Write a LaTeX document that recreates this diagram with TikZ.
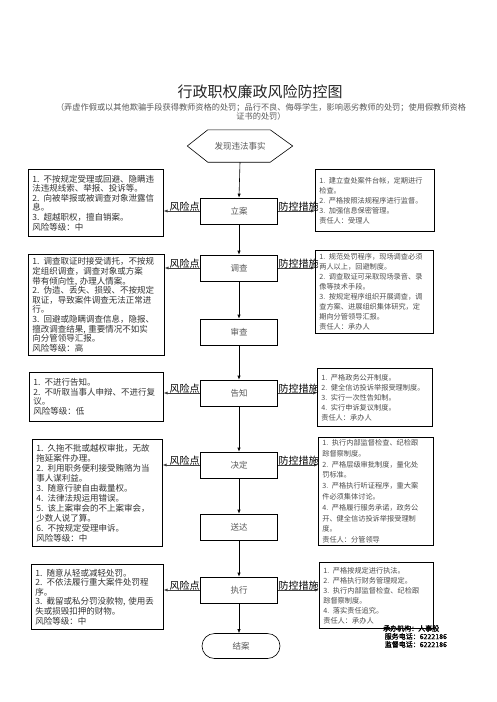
\documentclass[tikz,border=0pt]{standalone}
\usepackage{fontspec}
\setmainfont{Liberation Serif}
\newfontfamily\cjk{Noto Sans CJK SC}
\newfontfamily\cjkbold[FakeBold=1.2]{Noto Sans CJK SC}
\usetikzlibrary{arrows.meta,calc}
\tikzset{
  proc/.style={draw, line width=0.6pt, minimum width=77pt, minimum height=26pt, inner sep=0pt,
    font=\cjk\fontsize{8.5}{10}\selectfont, text=black!65},
  riskbox/.style={draw, line width=0.6pt, anchor=north west, align=left, inner xsep=4pt, inner ysep=2pt,
    font=\cjk\fontsize{8.5}{9.6}\selectfont, text=black!80},
  ctrlbox/.style={draw, line width=0.6pt, anchor=north west, align=left, inner xsep=4pt, inner ysep=2pt,
    font=\cjk\fontsize{7.2}{10}\selectfont, text=black!70},
  flow/.style={-{Latex[length=4pt,width=3.2pt]}, line width=0.6pt},
  side/.style={-{Latex[length=4pt,width=3.2pt]}, line width=1pt, draw=black!75},
  lab/.style={font=\cjk\fontsize{10}{10}\selectfont, inner sep=0.5pt},
}
\begin{document}
\begin{tikzpicture}[x=1pt,y=-1pt]
\fill[white] (0,0) rectangle (496,702);
\useasboundingbox (0,0) rectangle (496,702);

% title
\node[font=\cjk\fontsize{15}{16}\selectfont, text=black!85] (title) at (260,92) {行政职权廉政风险防控图};
\node[font=\cjk\fontsize{8.2}{8.6}\selectfont, text=black!65, align=center, inner sep=0pt] (sub) at (261,112)
  {（弄虚作假或以其他欺骗手段获得教师资格的处罚；品行不良、侮辱学生，影响恶劣教师的处罚；使用假教师资格\\证书的处罚）};

% start hexagon
\node[font=\cjk\fontsize{8.5}{10}\selectfont, text=black!65, minimum width=105pt, minimum height=32pt, inner sep=0pt] (start) at (240,146) {发现违法事实};
\draw[line width=0.6pt] (start.west) -- ($(start.north west)+(20.5,0)$) -- ($(start.north east)+(-22.5,0)$)
  -- (start.east) -- ($(start.south east)+(-22.5,0)$) -- ($(start.south west)+(20.5,0)$) -- cycle;

% process boxes
\node[proc] (lian) at (239,211) {立案};
\node[proc] (diao) at (239,268) {调查};
\node[proc] (shen) at (239,332) {审查};
\node[proc] (gao) at (239,393) {告知};
\node[proc] (jue) at (239,465) {决定};
\node[proc] (song) at (239,527) {送达};
\node[proc] (zhi) at (239,590) {执行};
\node[proc, rounded corners=12.5pt, minimum width=78pt, minimum height=25pt] (fin) at (241,646) {结案};

\draw[flow] (start.south) -- (lian.north);
\draw[flow] (lian.south) -- (diao.north);
\draw[flow] (diao.south) -- (shen.north);
\draw[flow] (shen.south) -- (gao.north);
\draw[flow] (gao.south) -- (jue.north);
\draw[flow] (jue.south) -- (song.north);
\draw[flow] (song.south) -- (zhi.north);
\draw[flow] (zhi.south) -- (zhi.south |- fin.north);

% risk boxes
\node[riskbox, text width=127pt, minimum height=67pt] (L1) at (28,169)
 {1. 不按规定受理或回避、隐瞒违\\法违规线索、举报、投诉等。\\2. 向被举报或被调查对象泄露信\\息。\\3. 超越职权，擅自销案。\\风险等级：中};
\node[riskbox, text width=128pt, minimum height=101pt] (L2) at (28,254)
 {1. 调查取证时接受请托，不按规\\定组织调查，调查对象或方案\\带有倾向性, 办理人情案。\\2. 伪造、丢失、损毁、不按规定\\取证，导致案件调查无法正常进\\行。\\3. 回避或隐瞒调查信息，隐报、\\擅改调查结果, 重要情况不如实\\向分管领导汇报。\\风险等级：高};
\node[riskbox, text width=126pt, minimum height=49pt] (L3) at (29,372)
 {1. 不进行告知。\\2. 不听取当事人申辩、不进行复\\议。\\风险等级：低};
\node[riskbox, text width=122pt, minimum height=107pt, font=\cjk\fontsize{8.5}{10}\selectfont] (L4) at (32,439)
 {1. 久拖不批或越权审批，无故\\拖延案件办理。\\2. 利用职务便利接受贿赂为当\\事人谋利益。\\3. 随意行驶自由裁量权。\\4. 法律法规运用错误。\\5. 该上案审会的不上案审会，\\少数人说了算。\\6. 不按规定受理申诉。\\风险等级：中};
\node[riskbox, text width=124pt, minimum height=65pt] (L5) at (31,564)
 {1. 随意从轻或减轻处罚。\\2. 不依法履行重大案件处罚程\\序。\\3. 截留或私分罚没款物, 使用丢\\失或损毁扣押的财物。\\风险等级：中};

% control boxes
\node[ctrlbox, text width=111pt, minimum height=62pt] (R1) at (315,169)
 {1. 建立查处案件台帐，定期进行\\检查。\\2. 严格按照法规程序进行监督。\\3. 加强信息保密管理。\\责任人：受理人};
\node[ctrlbox, text width=110pt, minimum height=83pt] (R2) at (315,250)
 {1. 规范处罚程序，现场调查必须\\两人以上，回避制度。\\2. 调查取证可采取现场录音、录\\像等技术手段。\\3. 按规定程序组织开展调查，调\\查方案、进展组织集体研究，定\\期向分管领导汇报。\\责任人：承办人};
\node[ctrlbox, text width=107pt, minimum height=58pt] (R3) at (317,368)
 {1. 严格政务公开制度。\\2. 健全信访投诉举报受理制度。\\3. 实行一次性告知制。\\4. 实行申诉复议制度。\\责任人：承办人};
\node[ctrlbox, text width=107pt, minimum height=107pt, font=\cjk\fontsize{7.2}{10.8}\selectfont] (R4) at (318,437)
 {1. 执行内部监督检查、纪检跟\\踪督察制度。\\2. 严格层级审批制度，量化处\\罚标准。\\3. 严格执行听证程序，重大案\\件必须集体讨论。\\4. 严格履行服务承诺，政务公\\开、健全信访投诉举报受理制\\度。\\责任人：分管领导};
\node[ctrlbox, text width=106pt, minimum height=66pt] (R5) at (319,562)
 {1. 严格按规定进行执法。\\2. 严格执行财务管理规定。\\3. 执行内部监督检查、纪检跟\\踪督察制度。\\4. 落实责任追究。\\责任人：承办人};

% side connectors
\foreach \c/\l/\r in {lian/L1/R1, diao/L2/R2, gao/L3/R3, jue/L4/R4, zhi/L5/R5}{
  \draw[side] (\c.west) -- (\c.west -| \l.east);
  \draw[side] (\c.east) -- (\c.east -| \r.west);
  \node[lab, anchor=south east] (rk\c) at ($(\c.west)+(0,1)$) {风险点};
  \node[lab, anchor=south west] (ct\c) at ($(\c.east)+(0,1)$) {防控措施};
}

% footer info
\node[font=\cjkbold\fontsize{7}{8}\selectfont, align=left, anchor=north west, inner sep=0pt] (info) at (383,625)
 {承办机构：人事股\\\ 服务电话：6222186\\\ 监督电话：6222186};
\end{tikzpicture}
\end{document}
